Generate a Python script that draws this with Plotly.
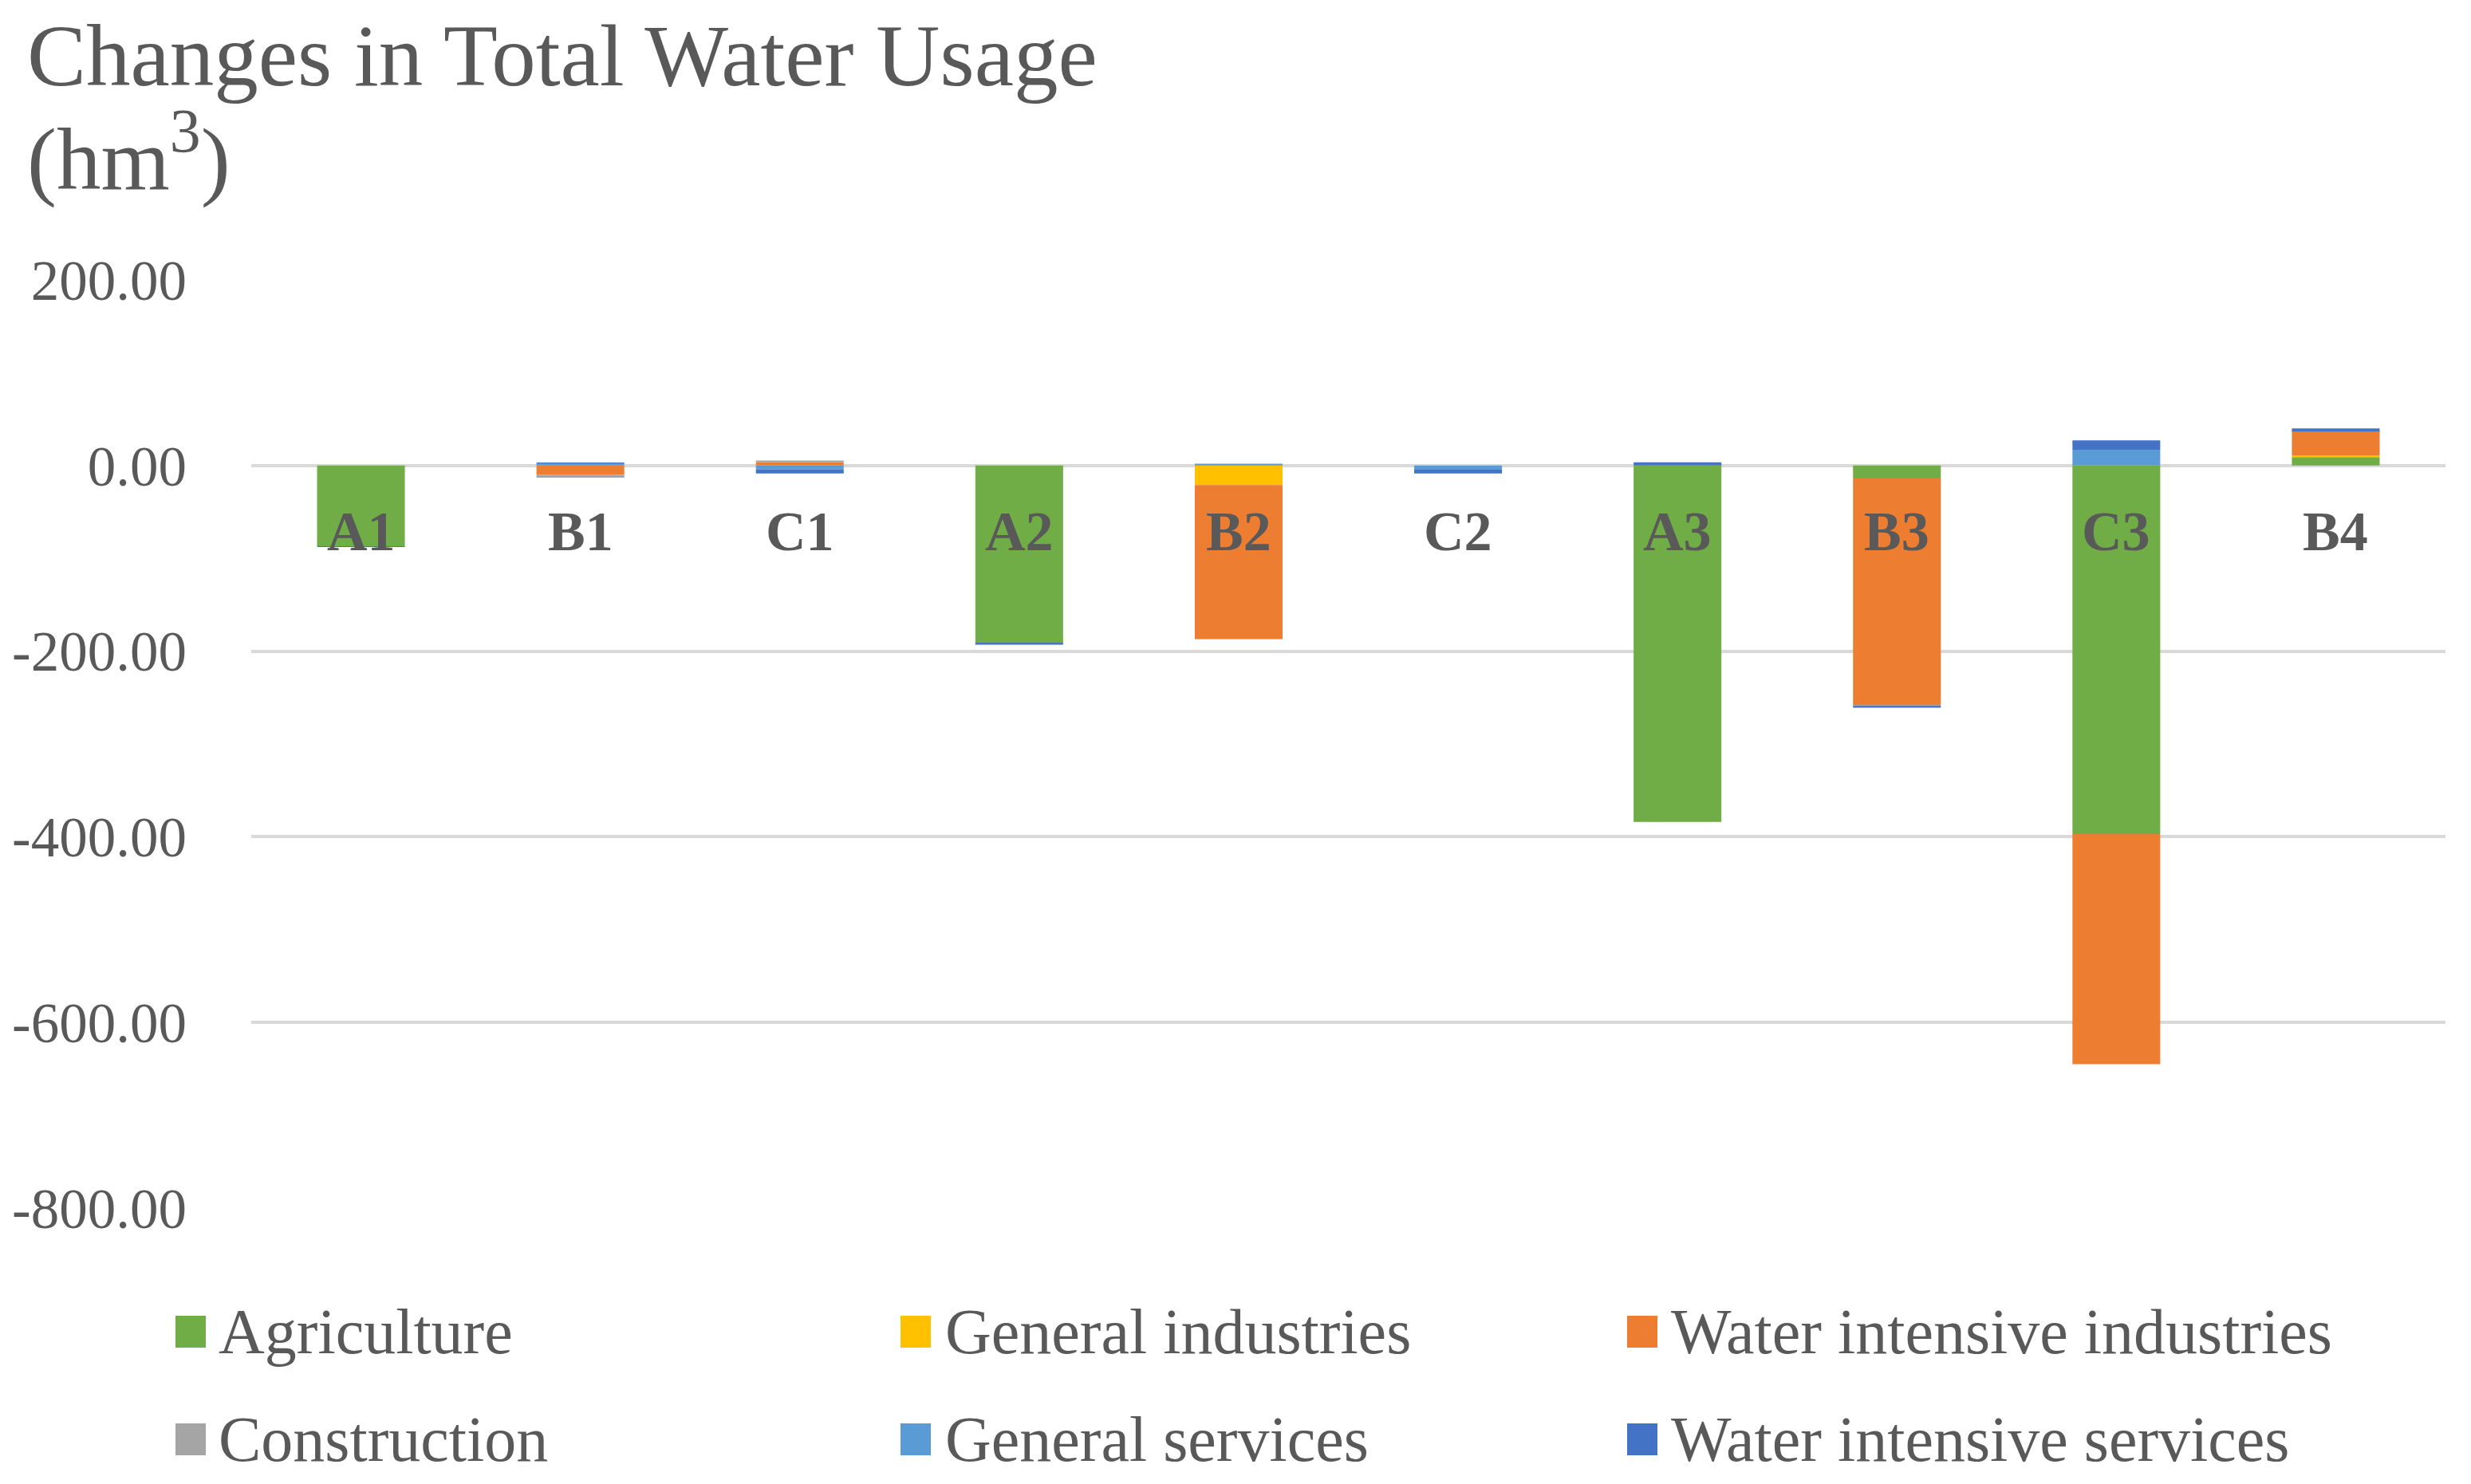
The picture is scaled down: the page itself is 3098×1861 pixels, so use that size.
import plotly.graph_objects as go

categories = ["A1", "B1", "C1", "A2", "B2", "C2", "A3", "B3", "C3", "B4"]

agriculture = [-87, 0, 0, -191, 0, 0, -384, -14, -397, 9]
general_industries = [0, 0, 0, 0, -21, 0, 0, 0, 0, 2]
water_intensive_industries = [0, -10, 3.5, 0, -166, 0, 0, -244, -248, 25]
construction = [0, -3, 2, 0, 0, 0, 0, -1, 0, 0.5]
general_services = [0, 2.5, -4, 0, 2, -4.5, 0.5, 0, 17, 0.5]
water_intensive_services = [-0.5, 0.5, -4.5, -2, 0, -4, 3, -2, 10, 3]

series_names = ["Agriculture", "General industries", "Water intensive industries",
                "Construction", "General services", "Water intensive services"]
series_values = [agriculture, general_industries, water_intensive_industries,
                 construction, general_services, water_intensive_services]
colors = ["#70AD47", "#FFC000", "#ED7D31", "#A5A5A5", "#5B9BD5", "#4472C4"]

y_ticks = [200, 0, -200, -400, -600, -800]
y_tick_labels = ["%.2f" % v for v in y_ticks]

W, H = 3098, 1861
L, R, T, B = 315, 32, 351, 346
TXT = "#595959"
FONT = "Liberation Serif"

fig = go.Figure()
for name, vals, col in zip(series_names, series_values, colors):
    fig.add_trace(go.Bar(x=categories, y=vals, name=name, marker_color=col,
                         marker_line_width=0, showlegend=False))

def px_x(px):
    return (px - L) / (W - L - R)

def px_y(py):
    return (H - B - py) / (H - T - B)

annotations = []
# title
annotations.append(dict(text="Changes in Total Water Usage", x=px_x(32), y=px_y(70),
                        xref="paper", yref="paper", xanchor="left", yanchor="middle",
                        showarrow=False, font=dict(family=FONT, size=111, color=TXT)))
annotations.append(dict(text="(hm<sup>3</sup>)", x=px_x(32), y=px_y(191),
                        xref="paper", yref="paper", xanchor="left", yanchor="middle",
                        showarrow=False, font=dict(family=FONT, size=111, color=TXT)))
# category labels near zero line
for c in categories:
    annotations.append(dict(text="<b>%s</b>" % c, x=c, y=0, xref="x", yref="y",
                            yanchor="middle", yshift=-83, showarrow=False,
                            font=dict(family=FONT, size=70, color=TXT)))

# legend (manual, 3 columns x 2 rows)
shapes = []
col_marker_px = [220, 1129, 2040]
col_text_px = [272, 1183, 2093]
row_center_px = [1670, 1805]
mw, mh = 38, 40
for i, (name, col) in enumerate(zip(series_names, colors)):
    r, c = divmod(i, 3)
    cy = row_center_px[r]
    shapes.append(dict(type="rect", xref="paper", yref="paper",
                       x0=px_x(col_marker_px[c]), x1=px_x(col_marker_px[c] + mw),
                       y0=px_y(cy + mh / 2), y1=px_y(cy - mh / 2),
                       fillcolor=col, line_width=0))
    annotations.append(dict(text=name, x=px_x(col_text_px[c]), y=px_y(cy),
                            xref="paper", yref="paper", xanchor="left", yanchor="middle",
                            showarrow=False, font=dict(family=FONT, size=80, color=TXT)))

fig.update_layout(
    width=W, height=H,
    margin=dict(l=L, r=R, t=T, b=B, pad=0),
    paper_bgcolor="white", plot_bgcolor="white",
    barmode="relative", bargap=0.6,
    annotations=annotations, shapes=shapes,
    showlegend=False,
    font=dict(family=FONT, color=TXT),
)
fig.update_xaxes(showticklabels=False, showgrid=False, zeroline=False, showline=False,
                 ticks="")
fig.update_yaxes(range=[-800, 200], tickvals=y_ticks, ticktext=y_tick_labels,
                 showgrid=True, gridcolor="#D9D9D9", gridwidth=4,
                 zeroline=True, zerolinecolor="#D9D9D9", zerolinewidth=4,
                 showline=False, ticks="", ticklabelstandoff=80,
                 tickfont=dict(family=FONT, size=71, color=TXT))

fig.write_html("out.html", config={"displayModeBar": False},
               post_script="document.body.style.margin='0';document.body.style.overflow='hidden';")
